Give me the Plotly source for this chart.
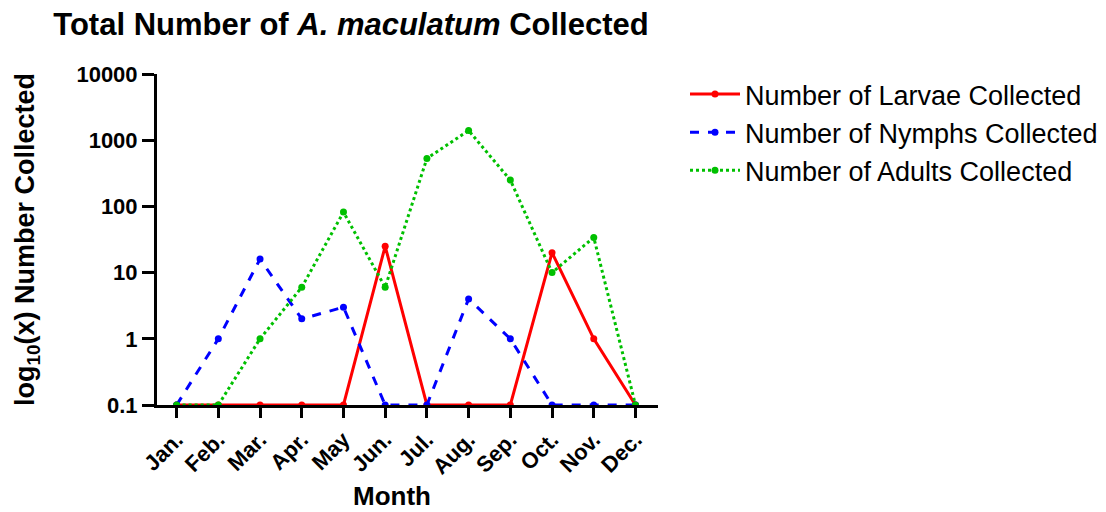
import plotly.graph_objects as go

months = ["Jan.", "Feb.", "Mar.", "Apr.", "May", "Jun.", "Jul.", "Aug.", "Sep.", "Oct.", "Nov.", "Dec."]
larvae = [0.1, 0.1, 0.1, 0.1, 0.1, 25, 0.1, 0.1, 0.1, 20, 1, 0.1]
nymphs = [0.1, 1, 16, 2, 3, 0.1, 0.1, 4, 1, 0.1, 0.1, 0.1]
adults = [0.1, 0.1, 1, 6, 82, 6, 530, 1400, 250, 10, 34, 0.1]
y_ticks = [0.1, 1, 10, 100, 1000, 10000]
y_ticktext = ["0.1", "1", "10", "100", "1000", "10000"]

FONT = "Liberation Sans, Arial, sans-serif"
W, H = 1098, 504  # page body has an 8px margin
OFF = 8
PL, PR, PT, PB = 157, 658, 74, 405  # plot area in screen pixels

def cx(px):
    return (px - OFF) / W

def cy(px):
    return 1 - (px - OFF) / H

def px_(px):
    return (px - PL) / (PR - PL)

def py_(py):
    return (PB - py) / (PB - PT)

fig = go.Figure()
fig.add_trace(go.Scatter(x=months, y=larvae, mode="lines+markers", name="Number of Larvae Collected",
                         legendgroup="a",
                         line=dict(color="#FF0000", width=3, dash="solid"),
                         marker=dict(color="#FF0000", size=7)))
fig.add_trace(go.Scatter(x=months, y=nymphs, mode="lines+markers", name="Number of Nymphs Collected",
                         legendgroup="b",
                         line=dict(color="#0000FF", width=3, dash="dash"),
                         marker=dict(color="#0000FF", size=7)))
fig.add_trace(go.Scatter(x=months, y=adults, mode="lines+markers", name="Number of Adults Collected",
                         legendgroup="c",
                         line=dict(color="#00C000", width=3, dash="dot"),
                         marker=dict(color="#00C000", size=7)))

fig.update_layout(
    width=W, height=H,
    margin=dict(l=PL - OFF, r=W - (PR - OFF), t=PT - OFF, b=H - (PB - OFF)),
    paper_bgcolor="white", plot_bgcolor="white",
    font=dict(family=FONT, color="black"),
    title=dict(text="<b>Total Number of <i>A. maculatum</i> Collected</b>",
               font=dict(size=31, family=FONT, color="black"),
               x=cx(351), xanchor="center", xref="container",
               y=cy(24), yanchor="middle", yref="container"),
    showlegend=True,
    legend=dict(x=cx(685), xref="container", xanchor="left",
                y=cy(70), yref="container", yanchor="top",
                font=dict(size=27, family=FONT, color="black"),
                bgcolor="rgba(0,0,0,0)", tracegroupgap=0, itemwidth=50),
    xaxis=dict(type="category", range=[-0.47, 11.54],
               showline=True, linecolor="black", linewidth=3,
               ticks="outside", ticklen=10, tickwidth=3, tickcolor="black",
               tickangle=-45, showgrid=False, zeroline=False,
               tickfont=dict(size=22, family=FONT, color="black", weight="bold")),
    yaxis=dict(type="log", range=[-1, 4],
               showline=True, linecolor="black", linewidth=3,
               ticks="outside", ticklen=12, tickwidth=3, tickcolor="black",
               tickvals=y_ticks, ticktext=y_ticktext,
               showgrid=False, zeroline=False,
               tickfont=dict(size=22, family=FONT, color="black", weight="bold"),
               title=dict(text="<b>log<sub>10</sub>(x) Number Collected</b>",
                          font=dict(size=27, family=FONT, color="black"), standoff=34)),
    annotations=[dict(text="<b>Month</b>", xref="paper", yref="paper",
                      x=px_(392), y=py_(496), xanchor="center", yanchor="middle",
                      showarrow=False, font=dict(size=26, family=FONT, color="black"))],
)

fig.write_html("out.html")
